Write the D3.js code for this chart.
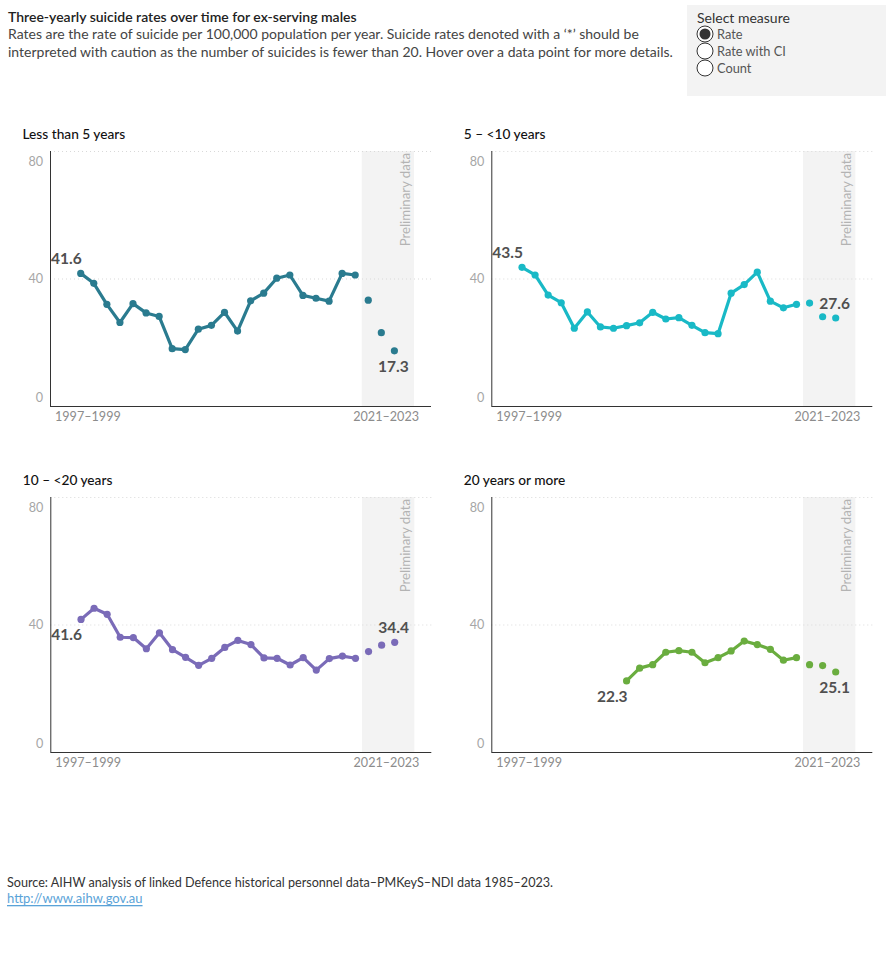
<!DOCTYPE html>
<html>
<head>
<meta charset="utf-8">
<script src="https://cdn.jsdelivr.net/npm/d3@7"></script>
<style>
  body { margin: 0; background: #fff; font-family: Lato, "Open Sans", sans-serif; }
  svg text { font-family: Lato, "Open Sans", sans-serif; }
</style>
</head>
<body>
<div id="chart"></div>
<script>
// three-year periods, 1997–1999 to 2021–2023
const periods = d3.range(1997, 2022).map(y => `${y}–${y + 2}`);
const prelimCount = 3;

const lessThan5 = [41.6, 38.5, 31.9, 26.2, 32.1, 29.2, 28.1, 18.0, 17.7, 24.1, 25.3, 29.4, 23.5,
  33.0, 35.4, 40.1, 41.1, 34.7, 33.8, 32.9, 41.6, 41.1, 33.2, 23.0, 17.3];
const fiveTo10 = [43.5, 41.1, 34.8, 32.4, 24.4, 29.5, 24.8, 24.4, 25.2, 26.1, 29.4, 27.3, 27.7,
  25.3, 23.0, 22.7, 35.4, 38.1, 42.0, 32.9, 30.8, 31.9, 32.3, 28.0, 27.6];
const tenTo20 = [41.6, 45.1, 43.2, 36.0, 35.9, 32.4, 37.4, 32.1, 29.7, 27.2, 29.4, 32.8, 35.0,
  33.7, 29.5, 29.4, 27.3, 29.6, 25.7, 29.3, 30.1, 29.4, 31.5, 33.5, 34.4];
const twentyPlus = [null, null, null, null, null, null, null, null, 22.3, 26.3, 27.4, 31.3, 31.8,
  31.3, 28.0, 29.6, 31.7, 34.8, 33.7, 32.2, 28.8, 29.6, 27.4, 27.1, 25.1];

const panelTitles = ['Less than 5 years', '5 – <10 years', '10 – <20 years', '20 years or more'];
const colours = ['#2a7b8f', '#19b9c6', '#7a6bb8', '#6aad3f'];
const yTicks = [0, 40, 80];

const W = 890, H = 960;
const pw = 381, ph = 255;

// panel layout: origin of the plot area and where the first / last labels sit
const panels = [
  { values: lessThan5, x: 50, y: 151, first: 'above', last: 'below' },
  { values: fiveTo10, x: 491.3, y: 151, first: 'above', last: 'above' },
  { values: tenTo20, x: 50.3, y: 497, first: 'below', last: 'above' },
  { values: twentyPlus, x: 491.3, y: 497, first: 'below', last: 'below' }
].map((p, i) => ({ ...p, title: panelTitles[i], colour: colours[i] }));

const svg = d3.select('#chart').append('svg')
  .attr('width', W)
  .attr('height', H);

// header
svg.append('text')
  .attr('x', 8).attr('y', 16)
  .attr('dominant-baseline', 'central')
  .attr('font-size', 14).attr('font-weight', 600)
  .attr('fill', '#222')
  .text('Three-yearly suicide rates over time for ex-serving males');

const subLines = [
  'Rates are the rate of suicide per 100,000 population per year. Suicide rates denoted with a \u2018*\u2019 should be',
  'interpreted with caution as the number of suicides is fewer than 20. Hover over a data point for more details.'
];
svg.selectAll('.sub').data(subLines).enter().append('text')
  .attr('class', 'sub')
  .attr('x', 8).attr('y', (d, i) => 33 + i * 18)
  .attr('dominant-baseline', 'central')
  .attr('font-size', 14)
  .attr('fill', '#444')
  .text(d => d);

// measure selector (static)
const legend = svg.append('g').attr('transform', 'translate(687,5)');
legend.append('rect').attr('width', 199).attr('height', 91).attr('fill', '#f3f3f3');
legend.append('text')
  .attr('x', 10).attr('y', 12)
  .attr('dominant-baseline', 'central')
  .attr('font-size', 14).attr('fill', '#333')
  .text('Select measure');
const options = ['Rate', 'Rate with CI', 'Count'];
const opt = legend.selectAll('.opt').data(options).enter().append('g')
  .attr('class', 'opt')
  .attr('transform', (d, i) => `translate(0,${29 + i * 17})`);
opt.append('circle')
  .attr('cx', 18).attr('r', 8)
  .attr('fill', '#fff').attr('stroke', '#333').attr('stroke-width', 1);
opt.filter((d, i) => i === 0).append('circle')
  .attr('cx', 18).attr('r', 5.5).attr('fill', '#333');
opt.append('text')
  .attr('x', 30)
  .attr('dominant-baseline', 'central')
  .attr('font-size', 12.8).attr('fill', '#555')
  .text(d => d);

// panels
const x = d3.scaleLinear().domain([-2.35, 26.8]).range([0, pw]);
const y = d3.scaleLinear().domain([0, 80]).range([ph, 0]);
const lastIdx = periods.length - 1;
const firstPrelim = periods.length - prelimCount;

panels.forEach(p => {
  const g = svg.append('g').attr('transform', `translate(${p.x},${p.y})`);

  g.append('text')
    .attr('x', -27.5).attr('y', -18)
    .attr('dominant-baseline', 'central')
    .attr('font-size', 13.7).attr('font-weight', 500)
    .attr('fill', '#111')
    .text(p.title);

  // preliminary band
  const bandL = x(firstPrelim - 0.5), bandR = x(lastIdx + 1.5);
  g.append('rect')
    .attr('x', bandL).attr('y', 0)
    .attr('width', bandR - bandL)
    .attr('height', ph)
    .attr('fill', '#f3f3f3');

  g.append('text')
    .attr('transform', `translate(${bandR - 9},2) rotate(-90)`)
    .attr('text-anchor', 'end')
    .attr('dominant-baseline', 'central')
    .attr('font-size', 13.2).attr('fill', '#b3b3b3')
    .text('Preliminary data');

  // gridlines
  g.selectAll('.grid').data([40, 80]).enter().append('line')
    .attr('x1', 0).attr('x2', pw)
    .attr('y1', d => y(d) + 0.5).attr('y2', d => y(d) + 0.5)
    .attr('stroke', '#d9d9d9').attr('stroke-dasharray', '1,3');

  // axes
  g.append('line').attr('x1', 0.5).attr('x2', 0.5).attr('y1', 0).attr('y2', ph)
    .attr('stroke', '#333');
  g.append('line').attr('x1', 0).attr('x2', pw).attr('y1', ph + 0.5).attr('y2', ph + 0.5)
    .attr('stroke', '#333');

  g.selectAll('.ytick').data(yTicks).enter().append('text')
    .attr('x', -7)
    .attr('y', d => Math.max(10, Math.min(ph - 9, y(d))))
    .attr('text-anchor', 'end')
    .attr('dominant-baseline', 'central')
    .attr('font-size', 12.6).attr('fill', '#a6a6a6')
    .text(d => d);

  g.append('text')
    .attr('x', 5).attr('y', ph + 10)
    .attr('dominant-baseline', 'central')
    .attr('font-size', 12.6).attr('fill', '#8c8c8c')
    .text(periods[0]);
  g.append('text')
    .attr('x', pw - 12).attr('y', ph + 10)
    .attr('text-anchor', 'end')
    .attr('dominant-baseline', 'central')
    .attr('font-size', 12.6).attr('fill', '#8c8c8c')
    .text(periods[lastIdx]);

  const pts = p.values.map((v, i) => ({ i, v })).filter(d => d.v != null);
  const main = pts.filter(d => d.i < firstPrelim);

  const line = d3.line().x(d => x(d.i)).y(d => y(d.v));
  g.append('path')
    .datum(main)
    .attr('d', line)
    .attr('fill', 'none')
    .attr('stroke', p.colour)
    .attr('stroke-width', 3.2)
    .attr('stroke-linejoin', 'round');

  g.selectAll('.dot').data(pts).enter().append('circle')
    .attr('cx', d => x(d.i)).attr('cy', d => y(d.v))
    .attr('r', 3.6)
    .attr('fill', p.colour);

  // first and last value labels
  const first = pts[0], last = pts[pts.length - 1];
  g.append('text')
    .attr('x', x(first.i) + 1)
    .attr('y', y(first.v) + (p.first === 'above' ? -15 : 15))
    .attr('text-anchor', 'end')
    .attr('dominant-baseline', 'central')
    .attr('font-size', 15.5).attr('font-weight', 700).attr('fill', '#505050')
    .text(first.v.toFixed(1));
  g.append('text')
    .attr('x', x(last.i) - 1)
    .attr('y', y(last.v) + (p.last === 'above' ? -15 : 15))
    .attr('text-anchor', 'middle')
    .attr('dominant-baseline', 'central')
    .attr('font-size', 15.5).attr('font-weight', 700).attr('fill', '#505050')
    .text(last.v.toFixed(1));
});

// footer
svg.append('text')
  .attr('x', 7).attr('y', 882)
  .attr('dominant-baseline', 'central')
  .attr('font-size', 12.6).attr('fill', '#333')
  .text('Source: AIHW analysis of linked Defence historical personnel data–PMKeyS–NDI data 1985–2023.');
svg.append('text')
  .attr('x', 7).attr('y', 898)
  .attr('dominant-baseline', 'central')
  .attr('font-size', 13).attr('fill', '#5aa3d8')
  .attr('text-decoration', 'underline')
  .text('http://www.aihw.gov.au');
</script>
</body>
</html>
